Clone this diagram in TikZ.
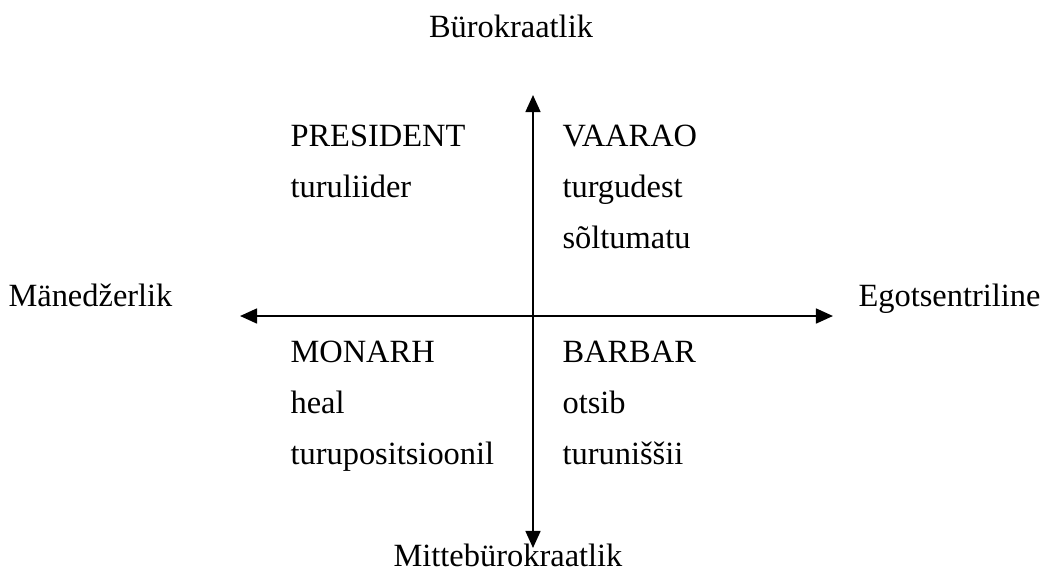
\documentclass[tikz,border=0pt]{standalone}
\usepackage{fontspec}
\setmainfont{Liberation Serif}
\usetikzlibrary{positioning,arrows.meta}

\begin{document}
\begin{tikzpicture}[
  x=0.37pt, y=-0.37pt,
  txt/.style={inner sep=0pt, font=\fontsize{12}{14}\selectfont, anchor=base west},
  axislabel/.style={inner sep=0pt, font=\fontsize{12}{14}\selectfont, anchor=base},
  axis/.style={line width=0.75pt, {Triangle[length=6.3pt, width=5.5pt]}-{Triangle[length=6.3pt, width=5.5pt]}}
]
\useasboundingbox (0,0) rectangle (1040,572);

% axes
\coordinate (top) at (533,95);
\coordinate (bot) at (533,548);
\coordinate (left) at (240,316);
\coordinate (right) at (833,316);
\draw[axis] (bot) -- (top);
\draw[axis] (left) -- (right);

% axis labels
\node[axislabel] (buro) at (511,37) {Bürokraatlik};
\node[axislabel] (mitte) at (508,566) {Mittebürokraatlik};
\node[txt] (maned) at (8,306) {Mänedžerlik};
\node[txt] (ego) at (858,306) {Egotsentriline};

% upper left
\node[txt] (pres) at (290,146) {PRESIDENT};
\node[txt, below=19pt of pres.base west, anchor=base west] (pres1) {turuliider};

% upper right
\node[txt] (vaarao) at (562,146) {VAARAO};
\node[txt, below=19pt of vaarao.base west, anchor=base west] (vaarao1) {turgudest};
\node[txt, below=19pt of vaarao1.base west, anchor=base west] (vaarao2) {sõltumatu};

% lower left
\node[txt] (monarh) at (290,362) {MONARH};
\node[txt, below=19pt of monarh.base west, anchor=base west] (monarh1) {heal};
\node[txt, below=19pt of monarh1.base west, anchor=base west] (monarh2) {turupositsioonil};

% lower right
\node[txt] (barbar) at (562,362) {BARBAR};
\node[txt, below=19pt of barbar.base west, anchor=base west] (barbar1) {otsib};
\node[txt, below=19pt of barbar1.base west, anchor=base west] (barbar2) {turuniššii};

\end{tikzpicture}
\end{document}
